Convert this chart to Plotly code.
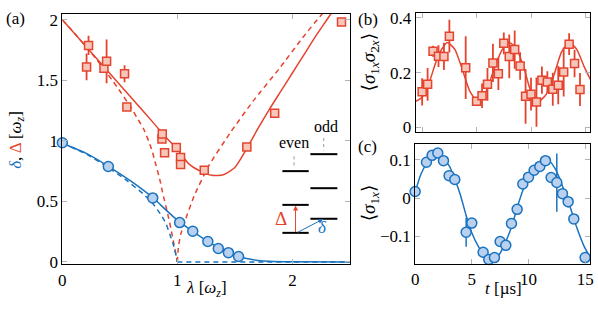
import plotly.graph_objects as go

W, H = 598, 309
RED = "#e5432d"
RED_FILL = "#f7c6ba"
BLUE = "#1a73bf"
BLUE_FILL = "#b9d0ee"
FONT = "'Times New Roman', 'Liberation Serif', 'DejaVu Serif', Tinos, serif"
FS = 17

# ---------------- panel (a) data ----------------
lam_sq = [0.211, 0.228, 0.362, 0.385, 0.541, 0.561, 0.866, 0.869, 0.889, 0.991,
          1.028, 1.028, 1.234, 1.604, 1.846, 2.427]
Delta_sq = [1.61, 1.788, 1.60, 1.656, 1.553, 1.28, 1.016, 1.056, 0.902, 0.944,
            0.862, 0.804, 0.757, 0.95, 1.228, 1.98]
Delta_err = [0.11, 0.08, 0.04, 0.18, 0.07, 0.02, 0.02, 0.02, 0.03, 0.03,
             0.02, 0.02, 0.03, 0.03, 0.01, 0.01]

lam_circ = [0.0, 0.40, 0.786, 1.02, 1.134, 1.265, 1.356, 1.444, 1.532]
delta_circ = [0.984, 0.788, 0.529, 0.325, 0.254, 0.169, 0.111, 0.077, 0.045]

lam_Delta_solid = [0, 0.2, 0.4, 0.6, 0.8, 0.9, 1.0, 1.1, 1.2, 1.3, 1.4, 1.5, 1.6,
                   1.7, 1.8, 1.9, 2.0, 2.1, 2.2, 2.3, 2.4, 2.5]
Delta_solid = [2.0, 1.785, 1.57, 1.355, 1.14, 1.03, 0.93, 0.81, 0.75, 0.715, 0.72,
               0.78, 0.93, 1.1, 1.26, 1.41, 1.56, 1.71, 1.86, 2.0, 2.14, 2.28]

lam_Delta_dash_l = [0, 0.15, 0.3, 0.48, 0.6, 0.65, 0.706, 0.75, 0.78, 0.80, 0.85,
                    0.87, 0.92, 0.943, 0.97, 0.99, 1.0]
Delta_dash_l = [2.0, 1.84, 1.67, 1.44, 1.27, 1.19, 1.10, 1.0, 0.92, 0.85, 0.67,
                0.58, 0.38, 0.28, 0.15, 0.05, 0.0]
lam_Delta_dash_r = [1.0, 1.01, 1.03, 1.063, 1.148, 1.276, 1.462, 1.66, 1.889,
                    2.088, 2.26, 2.5]
Delta_dash_r = [0.0, 0.13, 0.23, 0.33, 0.55, 0.80, 1.07, 1.33, 1.6, 1.85, 2.05, 2.29]

lam_delta_solid = [0, 0.2, 0.4, 0.6, 0.8, 0.9, 1.0, 1.1, 1.2, 1.3, 1.4, 1.5, 1.6,
                   1.7, 1.8, 2.0, 2.5]
delta_solid = [0.98, 0.9, 0.79, 0.665, 0.52, 0.43, 0.345, 0.275, 0.21, 0.15, 0.095,
               0.055, 0.028, 0.013, 0.006, 0.002, 0.0]
lam_delta_dash_l = [0, 0.2, 0.4, 0.55, 0.7, 0.78, 0.85, 0.9, 0.934, 0.96, 0.977,
                    0.99, 1.0]
delta_dash_l = [0.98, 0.895, 0.78, 0.68, 0.565, 0.49, 0.4, 0.32, 0.23, 0.16, 0.1,
                0.05, 0.0]
lam_delta_dash_r = [1.0, 2.5]
delta_dash_r = [0.0, 0.0]

# ---------------- panel (b) data ----------------
t_b = [0, 0.5, 1, 1.5, 2, 2.5, 4, 5, 5.5, 6, 6.5, 7, 7.5, 8, 8.5, 9, 9.5, 10,
       10.5, 11, 11.5, 12, 12.5, 13, 13.5, 14, 14.5]
corr_b = [0.1295, 0.157, 0.278, 0.26, 0.259, 0.333, 0.218, 0.095, 0.115, 0.157,
          0.235, 0.196, 0.307, 0.259, 0.284, 0.224, 0.113, 0.121, 0.092, 0.172,
          0.165, 0.139, 0.154, 0.202, 0.304, 0.233, 0.138]
corr_err = [0.05, 0.06, 0.02, 0.04, 0.05, 0.06, 0.115, 0.01, 0.045, 0.06, 0.07,
            0.06, 0.04, 0.08, 0.07, 0.05, 0.1, 0.06, 0.09, 0.05, 0.04, 0.06,
            0.07, 0.09, 0.04, 0.05, 0.06]
t_fit_b = [-0.6, 0, 0.7, 1.5, 2.3, 3.0, 3.7, 4.4, 5.1, 5.8, 6.5, 7.3, 8.0, 8.7,
           9.4, 10.0, 10.7, 11.4, 12.1, 12.8, 13.5, 14.2, 14.9, 15.45]
fit_b = [0.095, 0.11, 0.17, 0.265, 0.31, 0.285, 0.21, 0.13, 0.095, 0.125, 0.2,
         0.28, 0.31, 0.285, 0.21, 0.13, 0.095, 0.12, 0.19, 0.275, 0.31, 0.285,
         0.22, 0.175]

# ---------------- panel (c) data ----------------
t_c = [0, 1, 1.5, 2, 2.5, 3, 3.5, 4.5, 5, 6, 6.5, 7, 7.5, 8, 8.5, 9, 9.5, 10,
       10.5, 11, 11.5, 12, 12.5, 13, 13.5, 14, 15]
sx_c = [0.0176, 0.094, 0.112, 0.118, 0.098, 0.059, 0.049, -0.089, -0.065, -0.141,
        -0.16, -0.155, -0.113, -0.123, -0.066, -0.029, 0.037, 0.055, 0.073, 0.083,
        0.098, 0.054, 0.041, 0.012, -0.009, -0.054, -0.155]
sx_err = [0, 0, 0, 0, 0, 0, 0, 0.038, 0, 0, 0, 0, 0, 0, 0, 0, 0, 0, 0, 0, 0, 0,
          0.076, 0, 0.015, 0, 0]
t_fit_c = [0, 0.5, 1.2, 1.9, 2.5, 3.0, 3.5, 4.0, 4.5, 5.0, 5.6, 6.2, 6.8, 7.4,
           7.9, 8.5, 9.0, 9.5, 10.0, 10.5, 11.0, 11.5, 11.9, 12.3, 12.7, 13.2,
           13.7, 14.3, 14.9, 15.46]
fit_c = [0.015, 0.062, 0.098, 0.108, 0.1, 0.085, 0.05, 0.008, -0.045, -0.09,
         -0.127, -0.152, -0.16, -0.148, -0.12, -0.075, -0.025, 0.02, 0.052, 0.072,
         0.086, 0.094, 0.095, 0.08, 0.055, 0.015, -0.025, -0.08, -0.125, -0.155]


def px(x):
    return x / W


def py(y):
    return 1 - y / H


fig = go.Figure()


def curve(xs, ys, color, dash=None, axes=("x", "y"), smooth=0.6):
    line = dict(color=color, width=1.5, shape="spline", smoothing=smooth)
    if dash:
        line["dash"] = dash
    fig.add_trace(go.Scatter(x=xs, y=ys, mode="lines", line=line,
                             xaxis=axes[0], yaxis=axes[1], hoverinfo="skip"))


DASH = "5px,4px"
# panel (a) curves
curve(lam_Delta_dash_l, Delta_dash_l, RED, DASH, smooth=0.4)
curve(lam_Delta_dash_r, Delta_dash_r, RED, DASH, smooth=0.4)
curve(lam_Delta_solid, Delta_solid, RED)
curve(lam_delta_dash_l, delta_dash_l, BLUE, DASH, smooth=0.4)
curve(lam_delta_dash_r, delta_dash_r, BLUE, DASH)
curve(lam_delta_solid, delta_solid, BLUE)

fig.add_trace(go.Scatter(x=lam_sq, y=Delta_sq, mode="markers",
                         marker=dict(symbol="square", size=8, color=RED_FILL,
                                     line=dict(color=RED, width=1.5)),
                         error_y=dict(type="data", array=Delta_err, color=RED,
                                      thickness=1.8, width=0),
                         xaxis="x", yaxis="y"))
fig.add_trace(go.Scatter(x=lam_circ, y=delta_circ, mode="markers",
                         marker=dict(symbol="circle", size=10, color=BLUE_FILL,
                                     line=dict(color=BLUE, width=1.5)),
                         cliponaxis=False, xaxis="x", yaxis="y"))

# panel (b)
curve(t_fit_b, fit_b, RED, axes=("x2", "y2"))
fig.add_trace(go.Scatter(x=t_b, y=corr_b, mode="markers",
                         marker=dict(symbol="square", size=8, color=RED_FILL,
                                     line=dict(color=RED, width=1.5)),
                         error_y=dict(type="data", array=corr_err, color=RED,
                                      thickness=1.8, width=0),
                         xaxis="x2", yaxis="y2"))

# panel (c)
curve(t_fit_c, fit_c, BLUE, axes=("x3", "y3"))
fig.add_trace(go.Scatter(x=t_c, y=sx_c, mode="markers",
                         marker=dict(symbol="circle", size=10, color=BLUE_FILL,
                                     line=dict(color=BLUE, width=1.5)),
                         error_y=dict(type="data", array=sx_err, color=BLUE,
                                      thickness=1.5, width=0),
                         cliponaxis=False, xaxis="x3", yaxis="y3"))

axis_common = dict(showline=True, linecolor="black", linewidth=1, mirror="ticks",
                   ticks="inside", ticklen=5, tickcolor="#b5b5b5", tickwidth=1,
                   showgrid=False, zeroline=False,
                   tickfont=dict(family=FONT, size=FS, color="black"))

fig.update_layout(
    width=W, height=H, margin=dict(l=0, r=0, t=0, b=0),
    paper_bgcolor="white", plot_bgcolor="white", showlegend=False,
    font=dict(family=FONT, size=FS, color="black"),
    xaxis=dict(domain=[px(59), px(350)], range=[0, 2.5], anchor="y",
               tickvals=[0, 1, 2], ticktext=["0", "1", "2"], **axis_common),
    yaxis=dict(domain=[py(270), py(10)], range=[-0.02, 2.05], anchor="x",
               tickvals=[0, 0.5, 1, 1.5, 2], ticktext=["0", "0.5", "1", "1.5", "2"],
               **axis_common),
    xaxis2=dict(domain=[px(416.5), px(593.3)], range=[-0.6, 15.45], anchor="y2",
                tickvals=[0, 5, 10, 15], showticklabels=False, **axis_common),
    yaxis2=dict(domain=[py(132.3), py(9.3)], range=[-0.016, 0.418], anchor="x2",
                tickvals=[0, 0.2, 0.4], ticktext=["0", "0.2", "0.4"], **axis_common),
    xaxis3=dict(domain=[px(416), px(593.3)], range=[0, 15.46], anchor="y3",
                tickvals=[0, 5, 10, 15], ticktext=["0", "5", "10", "15"], **axis_common),
    yaxis3=dict(domain=[py(269.3), py(145)], range=[-0.171, 0.142], anchor="x3",
                tickvals=[-0.1, 0, 0.1], ticktext=["\u22120.1", "0", "0.1"],
                **axis_common),
)

ann = []


def text(x, y, s, size=FS, color="black", angle=0):
    ann.append(dict(x=px(x), y=py(y), xref="paper", yref="paper", text=s,
                    showarrow=False, textangle=angle,
                    font=dict(family=FONT, size=size, color=color),
                    xanchor="center", yanchor="middle"))


text(12, 15, "(a)")
text(368, 16, "(b)")
text(368, 148, "(c)")
text(13, 141, "<span style='color:%s'><i>δ</i></span>, "
     "<span style='color:%s'>Δ</span> [<i>ω<sub>z</sub></i>]" % (BLUE, RED), angle=-90)
text(205, 296, "<i>λ</i> [<i>ω<sub>z</sub></i>]")
text(370, 60, "⟨<i>σ</i><sub>1<i>x</i></sub><i>σ</i><sub>2<i>x</i></sub>⟩", angle=-90,
     size=19)
text(370, 206, "⟨<i>σ</i><sub>1<i>x</i></sub>⟩", angle=-90, size=19)
text(505, 295, "<i>t</i> [µs]")

# inset level diagram
text(293, 144, "even", size=16)
text(326, 127, "odd", size=16)
text(280, 222, "Δ", size=19, color=RED)
text(322, 232, "<i>δ</i>", size=17, color=BLUE)

ann.append(dict(x=px(295), y=py(209), xref="paper", yref="paper", ax=0, ay=28,
                axref="pixel", ayref="pixel", text="", showarrow=True, arrowhead=2,
                arrowsize=1, arrowwidth=1, arrowcolor=RED))
ann.append(dict(x=px(323), y=py(223), xref="paper", yref="paper", ax=-27, ay=14,
                axref="pixel", ayref="pixel", text="", showarrow=True, arrowhead=2,
                arrowsize=1, arrowwidth=1, arrowcolor=BLUE))

shapes = []
for yy in (173.3, 208.3, 237.3):
    shapes.append(dict(type="line", xref="paper", yref="paper", x0=px(281.7), x1=px(308.3),
                       y0=py(yy), y1=py(yy), line=dict(color="black", width=2)))
for yy in (155.7, 191, 222.7):
    shapes.append(dict(type="line", xref="paper", yref="paper", x0=px(310), x1=px(337.3),
                       y0=py(yy), y1=py(yy), line=dict(color="black", width=2)))
shapes.append(dict(type="line", xref="paper", yref="paper", x0=px(293.5), x1=px(293.5),
                   y0=py(158), y1=py(170), line=dict(color="#999999", width=1, dash="dot")))
shapes.append(dict(type="line", xref="paper", yref="paper", x0=px(323.5), x1=px(323.5),
                   y0=py(139), y1=py(152), line=dict(color="#999999", width=1, dash="dot")))

fig.update_layout(annotations=ann, shapes=shapes)
fig.write_html("out.html")
